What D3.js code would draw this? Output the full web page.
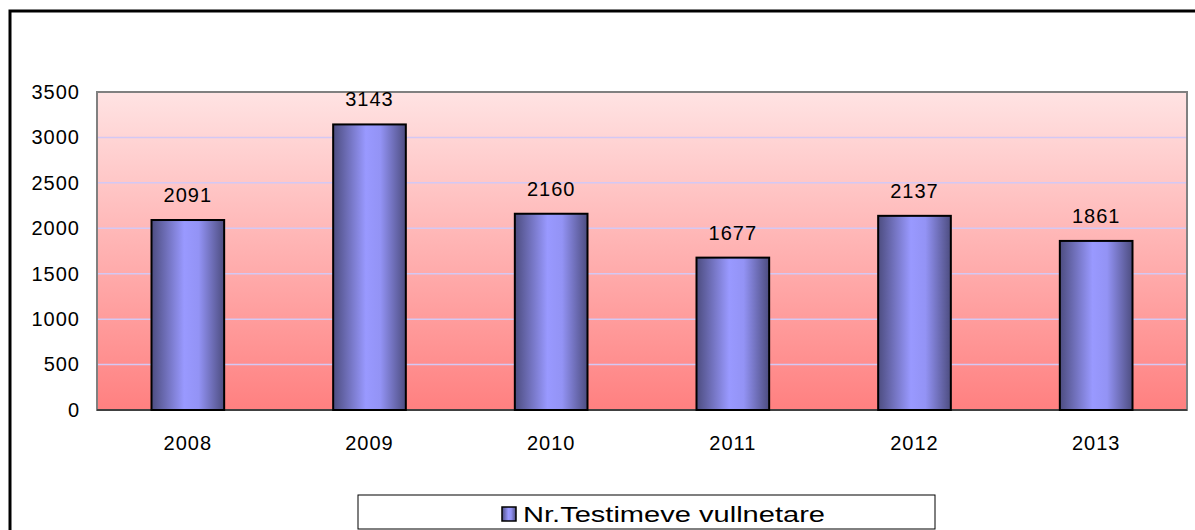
<!DOCTYPE html>
<html>
<head>
<meta charset="utf-8">
<script src="https://cdn.jsdelivr.net/npm/d3@7"></script>
<style>
  body { margin: 0; background: #fff; }
  text { font-family: "Liberation Sans", Arial, sans-serif; fill: #000; }
</style>
</head>
<body>
<div id="chart"></div>
<script>
// --- data ---
const years = ["2008", "2009", "2010", "2011", "2012", "2013"];
const values = [2091, 3143, 2160, 1677, 2137, 1861];
const yTicks = [0, 500, 1000, 1500, 2000, 2500, 3000, 3500];
const seriesName = "Nr.Testimeve vullnetare";

const W = 1195, H = 530;
const plot = { left: 97, right: 1187, top: 92, bottom: 410 };
const labelFont = "20px";
const labelSpacing = "1px";

const svg = d3.select("#chart").append("svg")
    .attr("width", W)
    .attr("height", H);

const defs = svg.append("defs");

// background gradient of the plot area
const bg = defs.append("linearGradient")
    .attr("id", "bgGrad")
    .attr("x1", 0).attr("y1", 0).attr("x2", 0).attr("y2", 1);
bg.append("stop").attr("offset", "0%").attr("stop-color", "#ffe3e3");
bg.append("stop").attr("offset", "100%").attr("stop-color", "#ff8080");

// horizontal "cylinder" gradient for bars
const bar = defs.append("linearGradient")
    .attr("id", "barGrad")
    .attr("x1", 0).attr("y1", 0).attr("x2", 1).attr("y2", 0);
bar.append("stop").attr("offset", "0%").attr("stop-color", "#4d4d80");
bar.append("stop").attr("offset", "45%").attr("stop-color", "#9999ff");
bar.append("stop").attr("offset", "65%").attr("stop-color", "#9393f5");
bar.append("stop").attr("offset", "100%").attr("stop-color", "#4d4d80");

// outer frame (only left and top edges visible)
svg.append("path")
    .attr("d", `M10,${H} V11 H${W}`)
    .attr("fill", "none")
    .attr("stroke", "#000")
    .attr("stroke-width", 3);

// --- scales ---
const x = d3.scaleBand()
    .domain(years)
    .range([plot.left, plot.right])
    .paddingInner(0.6)
    .paddingOuter(0.3);

const y = d3.scaleLinear()
    .domain([0, 3500])
    .range([plot.bottom, plot.top]);

// plot background
svg.append("rect")
    .attr("x", plot.left)
    .attr("y", plot.top)
    .attr("width", plot.right - plot.left)
    .attr("height", plot.bottom - plot.top)
    .attr("fill", "url(#bgGrad)");

// gridlines
svg.append("g")
    .selectAll("line")
    .data(yTicks.filter(d => d > 0 && d < 3500))
    .join("line")
    .attr("x1", plot.left)
    .attr("x2", plot.right)
    .attr("y1", d => y(d))
    .attr("y2", d => y(d))
    .attr("stroke", "#d4c8f4")
    .attr("stroke-width", 1.5);

// plot border
svg.append("rect")
    .attr("x", plot.left)
    .attr("y", plot.top)
    .attr("width", plot.right - plot.left)
    .attr("height", plot.bottom - plot.top)
    .attr("fill", "none")
    .attr("stroke", "#808080")
    .attr("stroke-width", 2);

// y axis labels
const yAxis = d3.axisLeft(y).tickValues(yTicks).tickFormat(d3.format("d"))
    .tickSize(0).tickPadding(17);
svg.append("g")
    .attr("transform", `translate(${plot.left},0)`)
    .call(yAxis)
    .call(g => g.select(".domain").remove())
    .selectAll("text")
    .style("font-size", labelFont)
    .style("letter-spacing", labelSpacing)
    .attr("fill", "#000");

// x axis labels
const xAxis = d3.axisBottom(x).tickSize(0).tickPadding(26);
svg.append("g")
    .attr("transform", `translate(0,${plot.bottom})`)
    .call(xAxis)
    .call(g => g.select(".domain").remove())
    .selectAll("text")
    .style("font-size", labelFont)
    .style("letter-spacing", labelSpacing)
    .attr("fill", "#000");

// baseline
svg.append("line")
    .attr("x1", plot.left).attr("x2", plot.right)
    .attr("y1", plot.bottom).attr("y2", plot.bottom)
    .attr("stroke", "#404040")
    .attr("stroke-width", 2);

// bars
svg.append("g")
    .selectAll("rect")
    .data(values)
    .join("rect")
    .attr("x", (d, i) => x(years[i]))
    .attr("y", d => y(d))
    .attr("width", x.bandwidth())
    .attr("height", d => y(0) - y(d))
    .attr("fill", "url(#barGrad)")
    .attr("stroke", "#000")
    .attr("stroke-width", 2);

// value labels
svg.append("g")
    .selectAll("text")
    .data(values)
    .join("text")
    .attr("x", (d, i) => x(years[i]) + x.bandwidth() / 2)
    .attr("y", d => y(d) - 18)
    .attr("text-anchor", "middle")
    .style("font-size", labelFont)
    .style("letter-spacing", labelSpacing)
    .text(d => d);

// legend
const legend = svg.append("g");
legend.append("rect")
    .attr("x", 358).attr("y", 495)
    .attr("width", 577).attr("height", 34)
    .attr("fill", "#fff")
    .attr("stroke", "#000")
    .attr("stroke-width", 1);
legend.append("rect")
    .attr("x", 502).attr("y", 507)
    .attr("width", 14).attr("height", 14)
    .attr("fill", "url(#barGrad)")
    .attr("stroke", "#000")
    .attr("stroke-width", 1.5);
legend.append("text")
    .attr("x", 523).attr("y", 522)
    .attr("textLength", 302)
    .attr("lengthAdjust", "spacingAndGlyphs")
    .style("font-size", "22px")
    .text(seriesName);
</script>
</body>
</html>
